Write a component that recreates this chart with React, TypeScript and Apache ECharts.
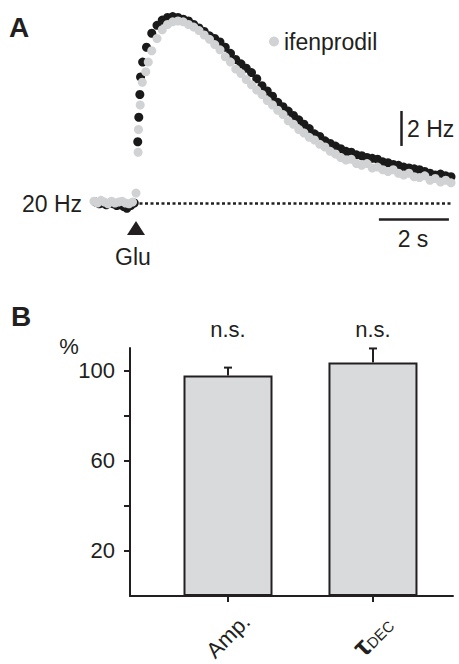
import React, { useEffect, useRef } from 'react';
import * as echarts from 'echarts';

const FONT = '"Liberation Sans", Arial, Helvetica, sans-serif';
const INK = '#231f20';

// Panel A: control trace (black) – time (s) and frequency (Hz)
const controlTime = [
  -1.15, -1.05, -0.95, -0.85, -0.75, -0.65, -0.55, -0.45, -0.35, -0.26, -0.15, -0.05,
  0.05, 0.08, 0.11, 0.13, 0.19, 0.3, 0.45, 0.6, 0.75, 0.9, 1.05, 1.2, 1.35, 1.5, 1.65,
  1.8, 1.95, 2.1, 2.25, 2.4, 2.55, 2.7, 2.85, 3.0, 3.15, 3.3, 3.45, 3.6, 3.75, 3.9,
  4.05, 4.2, 4.35, 4.5, 4.65, 4.8, 4.95, 5.1, 5.25, 5.4, 5.55, 5.7, 5.85, 6.0, 6.15,
  6.3, 6.45, 6.6, 6.75, 6.9, 7.05, 7.2, 7.35, 7.5, 7.65, 7.8, 7.95, 8.1, 8.25, 8.4,
  8.55, 8.7, 8.85, 9.0,
];
const controlHz = [
  20.05, 19.95, 20.0, 19.9, 20.0, 19.95, 19.85, 19.9, 19.8, 19.7, 19.85, 20.0,
  23.5, 24.9, 26.2, 27.2, 28.05, 28.9, 29.7, 30.15, 30.45, 30.6, 30.65, 30.6, 30.5, 30.4, 30.2,
  30.0, 29.8, 29.55, 29.4, 29.2, 28.9, 28.55, 28.2, 27.95, 27.7, 27.45, 27.1, 26.7, 26.4, 26.1,
  25.75, 25.5, 25.25, 25.0, 24.75, 24.5, 24.25, 23.95, 23.8, 23.55, 23.4, 23.25, 23.1, 22.95, 22.9,
  22.75, 22.7, 22.6, 22.55, 22.5, 22.35, 22.3, 22.2, 22.15, 22.05, 22.0, 21.95, 21.9, 21.8, 21.7,
  21.6, 21.65, 21.55, 21.5,
];

// Panel A: ifenprodil trace (grey)
const ifenTime = [
  -1.2, -1.1, -1.0, -0.9, -0.8, -0.7, -0.6, -0.5, -0.4, -0.3, -0.2, -0.1, 0.0,
  0.06, 0.07, 0.12, 0.18, 0.28, 0.35, 0.45, 0.6, 0.75, 0.9, 1.05, 1.2, 1.35, 1.5, 1.65,
  1.8, 1.95, 2.1, 2.25, 2.4, 2.55, 2.7, 2.85, 3.0, 3.15, 3.3, 3.45, 3.6, 3.75, 3.9,
  4.05, 4.2, 4.35, 4.5, 4.65, 4.8, 4.95, 5.1, 5.25, 5.4, 5.55, 5.7, 5.85, 6.0, 6.15,
  6.3, 6.45, 6.6, 6.75, 6.9, 7.05, 7.2, 7.35, 7.5, 7.65, 7.8, 7.95, 8.1, 8.25, 8.4,
  8.55, 8.7, 8.85, 9.0,
];
const ifenHz = [
  20.1, 20.0, 20.15, 20.05, 19.95, 20.1, 20.0, 20.05, 20.1, 20.0, 19.95, 20.05, 20.57,
  22.9, 24.2, 25.6, 26.9, 27.5, 28.05, 28.7, 29.4, 29.9, 30.2, 30.35, 30.4, 30.35, 30.2, 30.05,
  29.85, 29.6, 29.35, 29.05, 28.75, 28.35, 28.05, 27.65, 27.4, 27.05, 26.75, 26.45, 26.2, 25.85, 25.6,
  25.3, 25.05, 24.7, 24.5, 24.2, 24.0, 23.75, 23.6, 23.35, 23.2, 22.95, 22.8, 22.6, 22.45, 22.5,
  22.25, 22.15, 22.25, 22.0, 22.05, 21.9, 21.8, 21.9, 21.7, 21.6, 21.7, 21.5, 21.45, 21.55, 21.3,
  21.4, 21.2, 21.3, 21.15,
];

// Panel A annotations (data units)
const baselineHz = 20;
const baselineSpan = [0.1, 9.05];
const hzBar = { t: 7.57, from: 23.26, to: 25.26 };
const secBar = { f: 19.09, from: 6.94, to: 8.94 };
const gluTime = 0;

// Panel B
const barCategories = ['Amp.', 'τDEC'];
const barPositions = [1, 2];
const barValues = [97.8, 103.6];
const barErrors = [3.5, 6.2];
const yLabelValues = [20, 60, 100];
const yTickValues = [20, 40, 60, 80, 100];

export default function App() {
  const ref = useRef<HTMLDivElement>(null);

  useEffect(() => {
    if (!ref.current) return;
    const chart = echarts.init(ref.current, null, { renderer: 'svg' });

    const controlData = controlTime.map((t, i) => [t, controlHz[i]]);
    const ifenData = ifenTime.map((t, i) => [t, ifenHz[i]]);
    const barData = barPositions.map((p, i) => [p, barValues[i]]);
    const errData = barPositions.map((p, i) => [p, barValues[i], barValues[i] + barErrors[i]]);

    const option: any = {
      animation: false,
      textStyle: { fontFamily: FONT },
      legend: {
        data: [{ name: 'ifenprodil', icon: 'circle' }],
        left: 264,
        top: 25,
        itemWidth: 10,
        itemHeight: 10,
        itemGap: 5,
        selectedMode: false,
        textStyle: { fontSize: 23, color: INK, fontFamily: FONT },
      },
      grid: [
        { left: 87, top: 0, width: 371, height: 238 },
        { left: 130, top: 348, width: 323, height: 253 },
      ],
      xAxis: [
        { gridIndex: 0, type: 'value', min: -1.4, max: 9.2, show: false },
        {
          gridIndex: 1,
          type: 'value',
          min: 0.324,
          max: 2.552,
          splitLine: { show: false },
          axisLine: { show: true, onZero: false, lineStyle: { color: INK, width: 2 } },
          axisTick: { show: true, customValues: barPositions, length: 6, lineStyle: { color: INK, width: 2 } },
          axisLabel: {
            customValues: barPositions,
            formatter: (v: number) => {
              const i = barPositions.indexOf(v);
              if (i === 1) return '{tau|τ}{sub|DEC}';
              return i >= 0 ? barCategories[i] : '';
            },
            rotate: 45,
            align: 'center',
            verticalAlign: 'middle',
            margin: 40,
            fontSize: 22,
            color: INK,
            fontFamily: FONT,
            rich: {
              tau: { fontSize: 28, fontWeight: 'bold', color: INK, fontFamily: FONT },
              sub: { fontSize: 15, color: INK, fontFamily: FONT, padding: [8, 0, 0, 0] },
            },
          },
        },
      ],
      yAxis: [
        { gridIndex: 0, type: 'value', min: 18, max: 31.6, show: false },
        {
          gridIndex: 1,
          type: 'value',
          min: 0,
          max: 110,
          interval: 20,
          splitLine: { show: false },
          axisLine: { show: true, lineStyle: { color: INK, width: 2 } },
          axisTick: { show: true, customValues: yTickValues, length: 6, lineStyle: { color: INK, width: 2 } },
          axisLabel: {
            formatter: (v: number) => (yLabelValues.includes(v) ? String(v) : ''),
            margin: 15,
            fontSize: 22,
            color: INK,
            fontFamily: FONT,
          },
        },
      ],
      series: [
        {
          name: 'control',
          type: 'scatter',
          xAxisIndex: 0,
          yAxisIndex: 0,
          data: controlData,
          symbolSize: 9,
          itemStyle: { color: '#1a1a1a', opacity: 1 },
          silent: true,
          markLine: {
            silent: true,
            symbol: 'none',
            label: { show: false },
            data: [
              [
                { coord: [baselineSpan[0], baselineHz], lineStyle: { type: [3, 2.5], width: 2.5, color: INK } },
                { coord: [baselineSpan[1], baselineHz] },
              ],
              [
                { coord: [hzBar.t, hzBar.from], lineStyle: { type: 'solid', width: 2.5, color: INK } },
                { coord: [hzBar.t, hzBar.to] },
              ],
              [
                { coord: [secBar.from, secBar.f], lineStyle: { type: 'solid', width: 2.5, color: INK } },
                { coord: [secBar.to, secBar.f] },
              ],
            ],
          },
          markPoint: {
            silent: true,
            data: [
              {
                coord: [gluTime, 18.57],
                symbol: 'triangle',
                symbolSize: [18, 14],
                itemStyle: { color: INK },
                label: { show: false },
              },
            ],
          },
        },
        {
          name: 'ifenprodil',
          type: 'scatter',
          xAxisIndex: 0,
          yAxisIndex: 0,
          data: ifenData,
          symbolSize: 9,
          itemStyle: { color: '#d1d2d4', opacity: 1 },
          silent: true,
        },
        {
          name: 'bars',
          type: 'bar',
          xAxisIndex: 1,
          yAxisIndex: 1,
          data: barData,
          barWidth: 89,
          itemStyle: { color: '#d9dadc', borderColor: INK, borderWidth: 2 },
          silent: true,
        },
        {
          name: 'err',
          type: 'custom',
          xAxisIndex: 1,
          yAxisIndex: 1,
          data: errData,
          silent: true,
          z: 1,
          renderItem: (params: any, api: any) => {
            const x = api.value(0);
            const base = api.coord([x, api.value(1)]);
            const top = api.coord([x, api.value(2)]);
            return {
              type: 'group',
              children: [
                {
                  type: 'line',
                  shape: { x1: base[0], y1: base[1], x2: top[0], y2: top[1] },
                  style: { stroke: INK, lineWidth: 2 },
                },
                {
                  type: 'line',
                  shape: { x1: top[0] - 4, y1: top[1], x2: top[0] + 4, y2: top[1] },
                  style: { stroke: INK, lineWidth: 2 },
                },
              ],
            };
          },
        },
      ],
      graphic: [
        { type: 'text', x: 9, y: 13, style: { text: 'A', fontSize: 28, fontWeight: 'bold', fill: INK, fontFamily: FONT } },
        { type: 'text', x: 11, y: 302, style: { text: 'B', fontSize: 28, fontWeight: 'bold', fill: INK, fontFamily: FONT } },
        { type: 'text', x: 82, y: 204, style: { text: '20 Hz', fontSize: 23, fill: INK, fontFamily: FONT, align: 'right', verticalAlign: 'middle' } },
        { type: 'text', x: 133, y: 257, style: { text: 'Glu', fontSize: 23, fill: INK, fontFamily: FONT, align: 'center', verticalAlign: 'middle' } },
        { type: 'text', x: 407, y: 129, style: { text: '2 Hz', fontSize: 23, fill: INK, fontFamily: FONT, align: 'left', verticalAlign: 'middle' } },
        { type: 'text', x: 413, y: 239, style: { text: '2 s', fontSize: 23, fill: INK, fontFamily: FONT, align: 'center', verticalAlign: 'middle' } },
        { type: 'text', x: 69, y: 346, style: { text: '%', fontSize: 22, fill: INK, fontFamily: FONT, align: 'center', verticalAlign: 'middle' } },
        { type: 'text', x: 228, y: 329, style: { text: 'n.s.', fontSize: 22, fill: INK, fontFamily: FONT, align: 'center', verticalAlign: 'middle' } },
        { type: 'text', x: 373, y: 329, style: { text: 'n.s.', fontSize: 22, fill: INK, fontFamily: FONT, align: 'center', verticalAlign: 'middle' } },
      ],
    };

    chart.setOption(option);
    return () => chart.dispose();
  }, []);

  return (
    <div
      ref={ref}
      style={{ position: 'fixed', left: 0, top: 0, width: 459, height: 664, background: '#fff' }}
    />
  );
}
